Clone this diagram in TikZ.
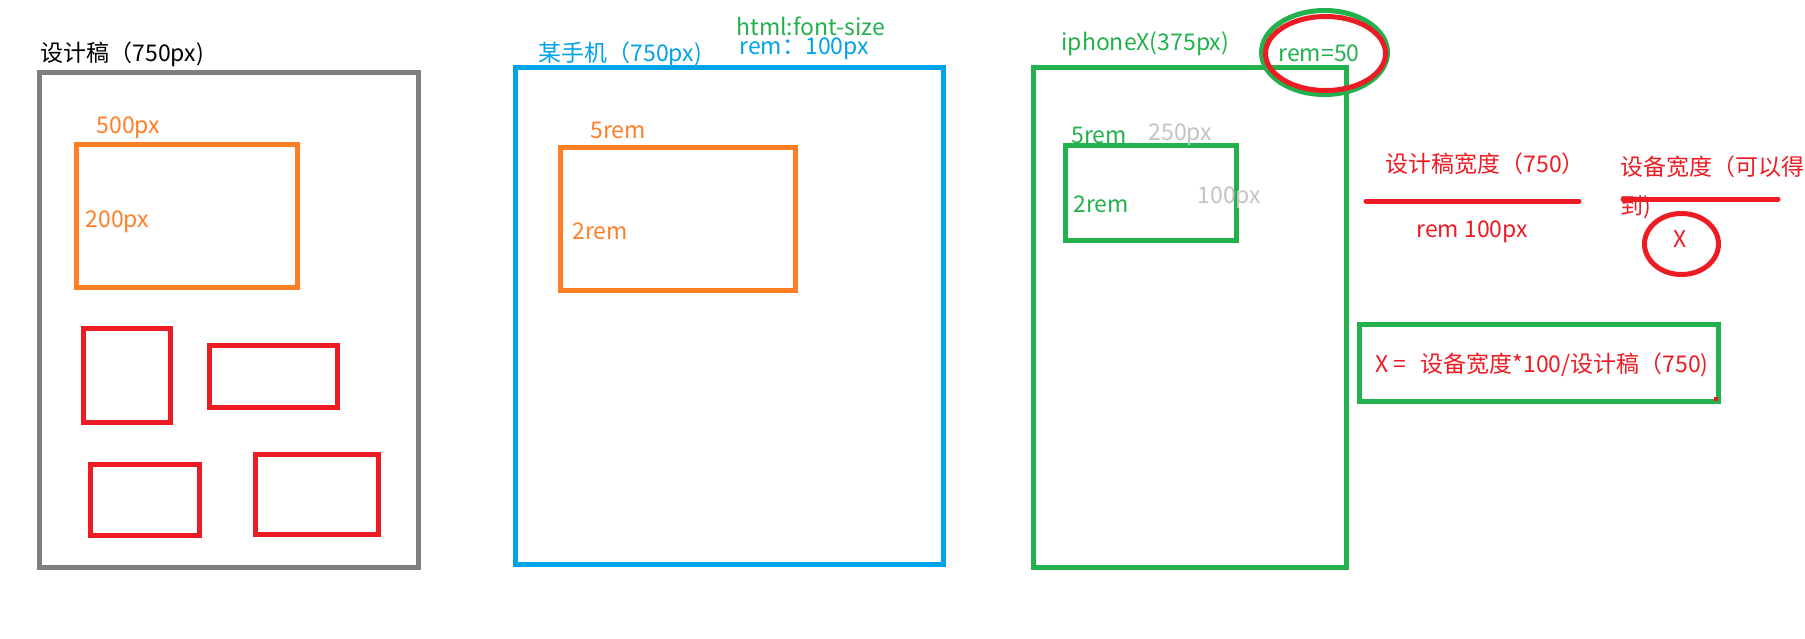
\documentclass[tikz,border=0pt]{standalone}
\usepackage{fontspec}
\setmainfont{Noto Sans CJK SC}
\usetikzlibrary{positioning}

\definecolor{paintgray}{HTML}{7F7F7F}
\definecolor{paintorange}{HTML}{FF7F27}
\definecolor{paintblue}{HTML}{00A2E8}
\definecolor{paintgreen}{HTML}{22B14C}
\definecolor{paintred}{HTML}{ED1C24}
\definecolor{paintlight}{HTML}{C3C3C3}

\begin{document}
\begin{tikzpicture}[x=1pt,y=-1pt,line width=5pt,font=\fontsize{23}{27}\selectfont,
  lbl/.style={inner sep=0pt,anchor=west}]
\fill[white] (0,0) rectangle (1805,638);
\useasboundingbox (0,0) rectangle (1805,638);

% design draft
\draw[paintgray] (39.5,72.5) rectangle (418.5,567.5);
\node[lbl] (draftT) at (38,54) {设计稿（750px)};
\draw[paintorange] (76.5,144.5) rectangle (297.5,287.5);
\node[lbl,text=paintorange] (draftW) at (94,128) {500px};
\node[lbl,text=paintorange] (draftH) at (83,222) {200px};
\draw[paintred] (83.5,328.5) rectangle (170.5,422.5);
\draw[paintred] (209.5,345.5) rectangle (337.5,407.5);
\draw[paintred] (90.5,464.5) rectangle (199.5,535.5);
\draw[paintred] (255.5,454.5) rectangle (378.5,534.5);

% some phone
\draw[paintblue] (515.5,67.5) rectangle (943.5,564.5);
\node[lbl,text=paintblue] (phoneT) at (536,54) {某手机（750px)};
\node[lbl,text=paintgreen] (htmlFs) at (734,26) {html:font-size};
\node[lbl,text=paintblue] (remA) at (737,49) {rem：100px};
\draw[paintorange] (560.5,147.5) rectangle (795.5,290.5);
\node[lbl,text=paintorange] (phoneW) at (588,130) {5rem};
\node[lbl,text=paintorange] (phoneH) at (570,231) {2rem};

% iphoneX
\draw[paintgreen] (1033.5,67.5) rectangle (1346.5,567.5);
\node[lbl,text=paintgreen] (ipT) at (1059,44) {iphoneX(375px)};
\draw[paintgreen] (1324.5,52.5) ellipse [x radius=63pt,y radius=42pt];
\draw[paintred] (1325.5,53.5) ellipse [x radius=60pt,y radius=37pt];
\node[lbl,text=paintgreen] (remB) at (1276,53) {rem=50};
\draw[paintgreen] (1065.5,145.5) rectangle (1236.5,240.5);
\node[lbl,text=paintgreen] (ipW) at (1069,135) {5rem};
\node[lbl,text=paintlight] (ipWpx) at (1146,135) {250px};
\node[lbl,text=paintgreen] (ipH) at (1071,204) {2rem};
\node[lbl,text=paintlight] (ipHpx) at (1195,198) {100px};

% ratio
\node[lbl,text=paintred] (num) at (1383,164) {设计稿宽度（750）};
\draw[paintred,line cap=round] (1366,201) -- (1579,201);
\node[lbl,text=paintred] (den) at (1414,232) {rem 100px};
\node[lbl,text=paintred,align=left] (devW) at (1618,187) {设备宽度（可以得\\[12pt]到)};
\draw[paintred,line cap=round] (1623,199) -- (1778,199);
\draw[paintred] (1681.5,244) ellipse [x radius=37pt,y radius=30.5pt];
\node[inner sep=0pt,text=paintred] (xval) at (1680,239) {X};

% result
\draw[paintgreen] (1359.5,324.5) rectangle (1718.5,401.5);
\node[lbl,text=paintred] (res) at (1373,365) {X =\hspace{14pt}设备宽度*100/设计稿（750)};
\fill[paintred] (1714,397) rectangle (1718,401);
\end{tikzpicture}
\end{document}
